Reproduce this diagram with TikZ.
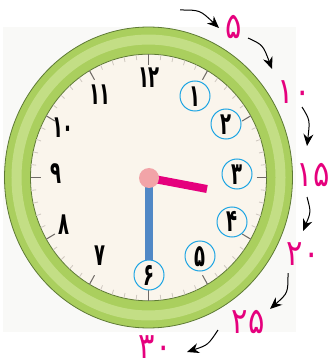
\documentclass[tikz,border=0pt]{standalone}
\usepackage{fontspec}
\newfontfamily\fa[Script=Arabic,FakeStretch=0.58]{DejaVu Sans}
\newfontfamily\fapink[Script=Arabic,FakeStretch=0.85]{DejaVu Sans}
\usetikzlibrary{arrows.meta}
\definecolor{ringgreen}{HTML}{AACF5E}
\definecolor{ringlight}{HTML}{CCE493}
\definecolor{ringline}{HTML}{5E7A35}
\definecolor{face}{HTML}{FAF5EC}
\definecolor{bgc}{HTML}{F9F9F7}
\definecolor{mag}{HTML}{E5007D}
\definecolor{cyanc}{HTML}{1EA5E3}
\definecolor{minblue}{HTML}{5088C6}
\definecolor{dotpink}{HTML}{F2A4A8}
\definecolor{tickc}{HTML}{6F6A66}
\definecolor{minortick}{HTML}{CFC8C0}
\tikzset{
  facenum/.style={font=\fa\bfseries\fontsize{31}{31}\selectfont, text=black, inner sep=0pt},
  ringmark/.style={circle, draw=cyanc, line width=1pt, minimum size=30pt, inner sep=0pt},
  minlabel/.style={font=\fapink\fontsize{36}{36}\selectfont, text=mag, inner sep=0pt},
  turn/.style={-{Stealth[length=12pt,width=10pt]}, line width=1pt, black},
  hourtick/.style={draw=tickc, line width=1pt},
  mintick/.style={draw=minortick, line width=0.8pt}
}
\begin{document}
\begin{tikzpicture}[x=1pt,y=-1pt]
\useasboundingbox (0,0) rectangle (335,363);
\fill[bgc] (3,27) rectangle (296,332);
\coordinate (C) at (148.5,177.5);
% ring and ticks (slightly taller than wide, as in the reference)
\begin{scope}[shift={(C)}, yscale=1.045]
\coordinate (O) at (0,0);
\draw[ringline, line width=0.8pt, fill=ringgreen] (O) circle (144pt);
\draw[ringlight, line width=10pt, opacity=0.75] (O) circle (132pt);
\draw[ringline, line width=0.8pt, fill=face] (O) circle (118pt);
\foreach \a in {0,6,...,354} \draw[mintick] (\a:113pt) -- (\a:118pt);
\foreach \a in {0,30,...,330} \draw[hourtick] (\a:108pt) -- (\a:118pt);
\end{scope}
% circles round 1 to 6
\node[ringmark] (c1) at (195,96) {};
\node[ringmark] (c2) at (226,124) {};
\node[ringmark] (c3) at (237,174) {};
\node[ringmark] (c4) at (232,222) {};
\node[ringmark] (c5) at (200,256) {};
\node[ringmark] (c6) at (149,275) {};
% hands
\coordinate (Hc) at (149,178);
\coordinate (mh) at (149,260);
\coordinate (hh) at (207,189);
\draw[minblue, line width=8pt] (Hc) -- (mh);
\draw[mag, line width=8pt] (Hc) -- (hh);
\fill[dotpink] (Hc) circle (10pt);
% numbers
\node[facenum] (n12) at (149,78) {۱۲};
\node[facenum] (n11) at (100,94.5) {۱۱};
\node[facenum] (n10) at (63,128) {۱۰};
\node[facenum] (n9) at (56,174) {۹};
\node[facenum] (n8) at (64,225) {۸};
\node[facenum] (n7) at (100,256) {۷};
\node[facenum] (n6) at (149,275) {۶};
\node[facenum] (n5) at (200,256.5) {۵};
\node[facenum] (n4) at (232,221.5) {۴};
\node[facenum] (n3) at (237,175) {۳};
\node[facenum] (n2) at (226,125) {۲};
\node[facenum] (n1) at (195,96.5) {۱};
% minute labels
\node[minlabel] (m5) at (234,27.5) {۵};
\node[minlabel] (m10) at (294,92.5) {۱۰};
\node[minlabel] (m15) at (313,175) {۱۵};
\node[minlabel] (m20) at (303,254) {۲۰};
\node[minlabel] (m25) at (248,322.5) {۲۵};
\node[minlabel] (m30) at (155,347.5) {۳۰};
% arrows
\coordinate (a1) at (180,10); \coordinate (b1) at (219,28);
\coordinate (a2) at (248,38); \coordinate (b2) at (272,69);
\coordinate (a3) at (302,107); \coordinate (b3) at (307,146);
\coordinate (a4) at (307,197); \coordinate (b4) at (303,231);
\coordinate (a5) at (288,273); \coordinate (b5) at (270,309);
\coordinate (a6) at (218,330); \coordinate (b6) at (187,352);
\draw[turn] (a1) .. controls (200,10) .. (b1);
\draw[turn] (a2) .. controls (263,45) .. (b2);
\draw[turn] (a3) .. controls (310,120) .. (b3);
\draw[turn] (a4) .. controls (311,212) .. (b4);
\draw[turn] (a5) .. controls (288,293) .. (b5);
\draw[turn] (a6) .. controls (208,345) .. (b6);
\end{tikzpicture}
\end{document}
